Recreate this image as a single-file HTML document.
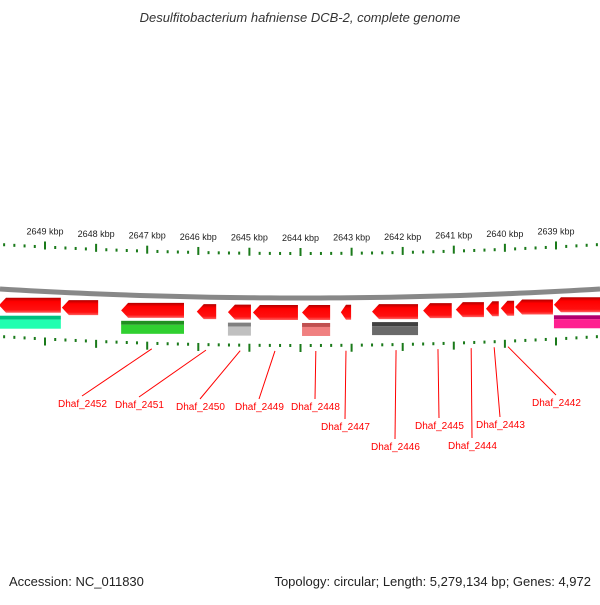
<!DOCTYPE html>
<html><head><meta charset="utf-8"><style>
body{margin:0;background:#fff}
svg text{font-family:"Liberation Sans",sans-serif}
</style></head><body>
<svg id="c" width="600" height="600" viewBox="0 0 600 600">
<defs>
<linearGradient id="rg" x1="0" y1="0" x2="0" y2="1"><stop offset="0" stop-color="#b00000"/><stop offset="0.25" stop-color="#ff0000"/><stop offset="0.8" stop-color="#ff1010"/><stop offset="1" stop-color="#ff6060"/></linearGradient>
</defs>
<text x="300" y="22" text-anchor="middle" font-size="13" font-style="italic" fill="#333">Desulfitobacterium hafniense DCB-2, complete genome</text>
<text x="9" y="586" font-size="13" fill="#222">Accession: NC_011830</text>
<text x="591" y="586" text-anchor="end" font-size="13" fill="#222">Topology: circular; Length: 5,279,134 bp; Genes: 4,972</text>
<g id="g"></g>
</svg>
<script>
const tickKbp=[2649,2648,2647,2646,2645,2644,2643,2642,2641,2640,2639];
const geneStart=[2649.9,2648.67,2647.51,2646.03,2645.42,2644.93,2643.97,2643.21,2642.60,2641.60,2640.96,2640.37,2640.08,2639.80,2639.04];
const geneEnd=[2648.69,2647.96,2646.28,2645.65,2644.97,2644.05,2643.42,2643.01,2641.70,2641.04,2640.41,2640.12,2639.82,2639.06,2638.1];
const catStart=[2649.9,2647.51,2645.42,2643.97,2642.60,2639.04];
const catEnd=[2648.69,2646.28,2644.97,2643.42,2641.70,2638.1];
const catColors=[["#00c080","#20ffb0"],["#209020","#30d030"],["#808080","#c0c0c0"],["#c05050","#f08080"],["#404040","#6a6a6a"],["#b00070","#ff2090"]];
const labels=["Dhaf_2452","Dhaf_2451","Dhaf_2450","Dhaf_2449","Dhaf_2448","Dhaf_2447","Dhaf_2446","Dhaf_2445","Dhaf_2444","Dhaf_2443","Dhaf_2442"];
const labelKbp=[2646.91,2645.85,2645.18,2644.50,2643.70,2643.11,2642.13,2641.31,2640.66,2640.21,2639.94];
const labelTx=[58,115,176,235,291,321,371,415,448,476,532];
const labelTy=[407,408,410,410,410,430,450,429,449,428,406];
const X=k=>45+(2649-k)*51.1;
const B=x=>298-0.0001*(x-300)*(x-300);
const g=document.getElementById('g');const NS='http://www.w3.org/2000/svg';
function mk(t,a,p){const e=document.createElementNS(NS,t);for(const k in a)e.setAttribute(k,a[k]);(p||g).appendChild(e);return e;}
let d='';for(let x=0;x<=600;x+=10)d+=(x?'L':'M')+x+' '+B(x);
const bb=mk('path',{d:d,stroke:'#888',fill:'none','stroke-width':5});


for(let k=2650;k>=2638;k-=0.2){const kk=Math.round(k*10)/10;const x=X(kk);if(x<0||x>600)continue;const major=Math.abs(kk-Math.round(kk))<0.01;
 const yt=B(x)-45,yb=B(x)+46;
 const t1=mk('rect',{x:x-1,y:major?yt-5:yt-1,width:2,height:major?8:3,fill:'#1a7a1a'});
 
 
 const t2=mk('rect',{x:x-1,y:yb,width:2,height:major?8:3,fill:'#1a7a1a'});
 
 }
tickKbp.forEach(k=>{const x=X(k);const t=mk('text',{x:x,y:B(x)-57,'text-anchor':'middle','font-size':9,fill:'#222'});t.textContent=k+' kbp';
 
 });
geneStart.forEach((s,i)=>{const x1=X(s),x2=X(geneEnd[i]);const y=B((x1+x2)/2)+7;const h=15;const hd=Math.min(7,(x2-x1)/2);
 const p=mk('path',{d:`M${x1} ${y+h/2} L${x1+hd} ${y} L${x2} ${y} L${x2} ${y+h} L${x1+hd} ${y+h} Z`,fill:'url(#rg)'});
 
 });
catStart.forEach((s,i)=>{const x1=X(s),x2=X(catEnd[i]);const y=B((x1+x2)/2)+25;
 const r=mk('rect',{x:x1,y:y,width:x2-x1,height:4,fill:catColors[i][0]});
 
 
 const r2=mk('rect',{x:x1,y:y+4,width:x2-x1,height:9,fill:catColors[i][1]});
 
 });
labels.forEach((l,i)=>{const x=X(labelKbp[i]);const tx=labelTx[i],ty=labelTy[i];
 const ln=mk('line',{x1:x,y1:B(x)+53,x2:tx+24,y2:ty-11,stroke:'#f00','stroke-width':1});
 
 
 const t=mk('text',{x:tx,y:ty,'font-size':10,fill:'#f00'});t.textContent=l;
 
 });
</script>
</body></html>
